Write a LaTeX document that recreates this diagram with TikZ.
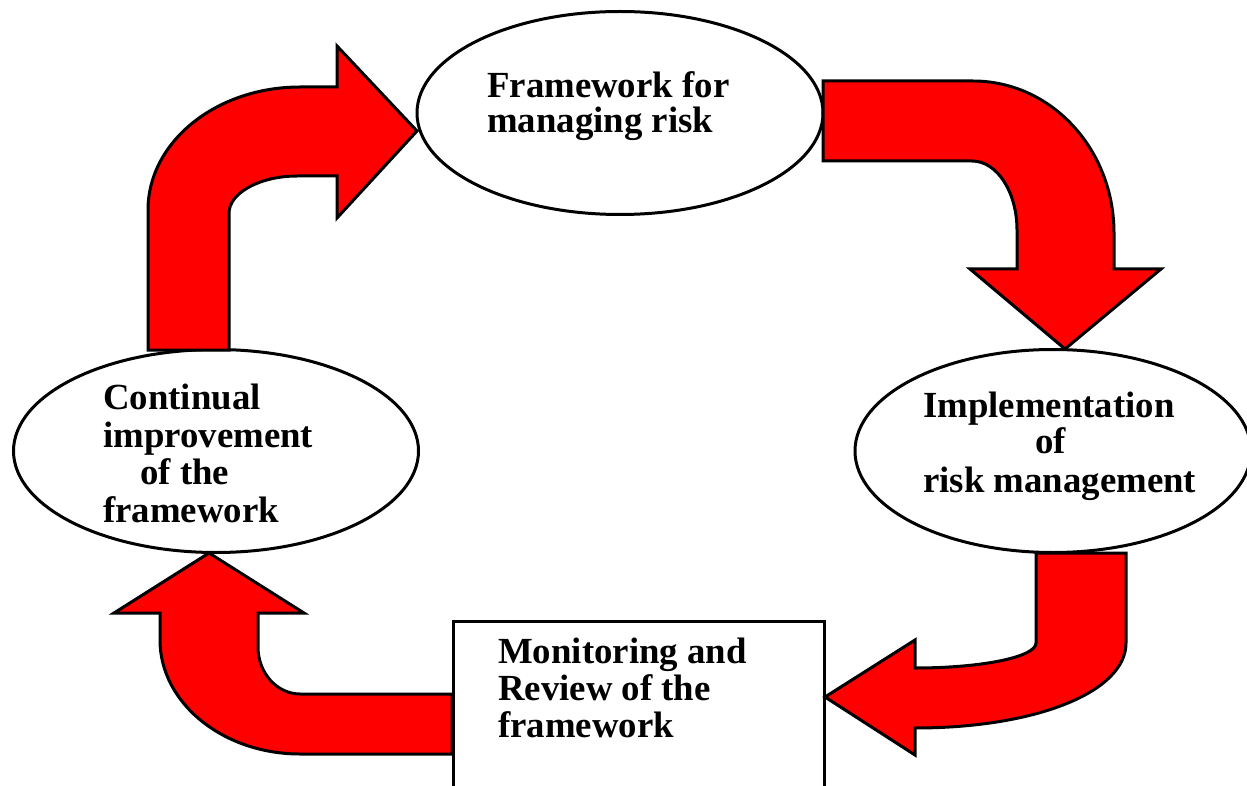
\documentclass[tikz,border=0pt]{standalone}
\usepackage{fontspec}
\setmainfont{Liberation Serif}
\usetikzlibrary{shapes.geometric}
\tikzset{
  bubble/.style={ellipse, draw=black, fill=white, line width=3pt, inner sep=0pt},
  boxnode/.style={rectangle, draw=black, fill=white, line width=3pt, inner sep=0pt, anchor=north west},
  bigarrow/.style={fill=red, draw=black, line width=3pt, line join=miter},
  lbl/.style={anchor=base west, inner sep=0pt, font=\fontsize{36.8}{37}\selectfont\bfseries}
}
\begin{document}
\begin{tikzpicture}[x=1pt,y=-1pt]
\useasboundingbox (0,0) rectangle (1247,786);
\clip (0,0) rectangle (1247,786);
% nodes
\node[bubble, minimum width=406pt, minimum height=203pt] (frame) at (620,113) {};
\node[bubble, minimum width=396pt, minimum height=203pt] (impl) at (1053,451) {};
\node[bubble, minimum width=405pt, minimum height=203pt] (cont) at (216,451) {};
\node[boxnode, minimum width=371pt, minimum height=220pt] (mon) at (452,620) {};
% arrows
\draw[bigarrow] (148,350) -- (148,210)
  .. controls (148,142) and (216,87) .. (300,87) -- (337,87) -- (337,46)
  -- (417,131) -- (337,218) -- (337,176) -- (297,176)
  .. controls (260,176) and (229,193) .. (229,213) -- (229,350) -- cycle;
\draw[bigarrow] (823,81) -- (973,81)
  .. controls (1051,81) and (1114,149) .. (1114,233) -- (1114,269) -- (1161,269)
  -- (1065,349) -- (970,269) -- (1017,269) -- (1017,230)
  .. controls (1017,192) and (997,161) .. (972,161) -- (823,161) -- cycle;
\draw[bigarrow] (1036,553) -- (1126,553) -- (1126,643)
  .. controls (1126,692) and (1036,728) .. (915,728) -- (915,755)
  -- (825,697) -- (915,640) -- (915,668)
  .. controls (982,668) and (1036,657) .. (1036,643) -- cycle;
\draw[bigarrow] (452,694) -- (300,694)
  .. controls (277,694) and (258,673) .. (258,647) -- (258,613) -- (304,613)
  -- (209,553) -- (114,613) -- (160,613) -- (160,640)
  .. controls (160,703) and (223,754) .. (300,754) -- (452,754) -- cycle;
% labels
\node[lbl] (f1) at (487,98) {Framework for};
\node[lbl] (f2) at (487,133) {managing risk};
\node[lbl] (i1) at (923,417) {Implementation};
\node[lbl] (i2) at (1035,453) {of};
\node[lbl] (i3) at (923,492) {risk management};
\node[lbl] (c1) at (103,409) {Continual};
\node[lbl] (c2) at (103,447) {improvement};
\node[lbl] (c3) at (140,484) {of the};
\node[lbl] (c4) at (103,522) {framework};
\node[lbl] (m1) at (498,663) {Monitoring and};
\node[lbl] (m2) at (498,700) {Review of the};
\node[lbl] (m3) at (498,737) {framework};
\end{tikzpicture}
\end{document}
